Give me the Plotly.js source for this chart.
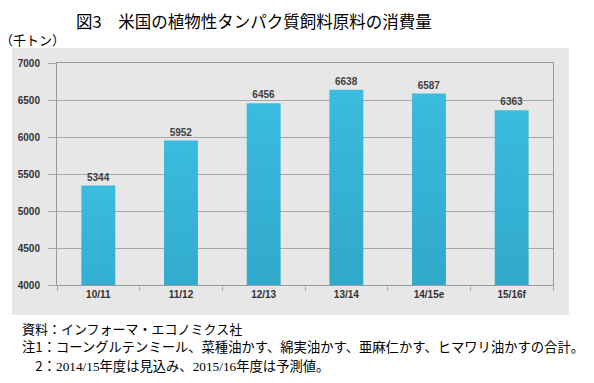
<!DOCTYPE html>
<html>
<head>
<meta charset="utf-8">
<script src="https://cdn.plot.ly/plotly-3.0.1.min.js"></script>
<style>
html,body{margin:0;padding:0;background:#fff;}
#chart{width:594px;height:383px;}
</style>
</head>
<body>
<svg width="0" height="0" style="position:absolute">
  <defs>
    <linearGradient id="barGrad" x1="0" y1="0" x2="0" y2="1">
      <stop offset="0" stop-color="#3abbe0"/>
      <stop offset="0.5" stop-color="#2da3c4"/>
      <stop offset="1" stop-color="#1a788f"/>
    </linearGradient>
  </defs>
</svg>
<div id="chart"></div>
<script>
const categories = ["10/11", "11/12", "12/13", "13/14", "14/15e", "15/16f"];
const consumption = [5344, 5952, 6456, 6638, 6587, 6363];
const yTicks = [4000, 4500, 5000, 5500, 6000, 6500, 7000];

const titleText = "図3　米国の植物性タンパク質飼料原料の消費量";
const unitText = "（千トン）";
const noteSource = "資料：インフォーマ・エコノミクス社";
const note1 = "注1：コーングルテンミール、菜種油かす、綿実油かす、亜麻仁かす、ヒマワリ油かすの合計。";

const jp = '"Noto Sans CJK JP", sans-serif';
const serifSpan = s => '<span style="font-family:\'Liberation Serif\', serif">' + s + '</span>';
const note2 = "　2：" + serifSpan("2014/15") + "年度は見込み、" + serifSpan("2015/16") + "年度は予測値。";

const trace = {
  type: "bar",
  x: categories,
  y: consumption,
  width: 0.41,
  marker: {color: "#2ca0c0", line: {width: 0}},
  text: consumption.map(String),
  textposition: "outside",
  cliponaxis: false,
  textfont: {family: '"Liberation Sans", Arial, sans-serif', size: 10, color: "#404040", weight: "bold"},
  hoverinfo: "none"
};

const layout = {
  width: 594,
  height: 383,
  margin: {l: 57, r: 41, t: 63, b: 98, pad: 0},
  paper_bgcolor: "#ffffff",
  plot_bgcolor: "rgba(0,0,0,0)",
  showlegend: false,
  bargap: 0.59,
  xaxis: {
    type: "category",
    showgrid: false,
    showline: true,
    linecolor: "#9a9a9a",
    linewidth: 1,
    mirror: true,
    ticks: "outside",
    tickson: "boundaries",
    ticklen: 5,
    tickcolor: "#b0b0b0",
    tickfont: {family: '"Liberation Sans", Arial, sans-serif', size: 10, color: "#333333", weight: "bold"},
    fixedrange: true
  },
  yaxis: {
    range: [4000, 7000],
    tickvals: yTicks,
    ticktext: yTicks.map(String),
    showgrid: true,
    gridcolor: "#a8a8a8",
    gridwidth: 1,
    showline: true,
    linecolor: "#9a9a9a",
    linewidth: 1,
    mirror: true,
    zeroline: false,
    ticks: "outside",
    ticklen: 8,
    tickcolor: "#a8a8a8",
    ticklabelstandoff: 6,
    tickfont: {family: '"Liberation Sans", Arial, sans-serif', size: 10, color: "#333333", weight: "bold"},
    fixedrange: true
  },
  shapes: [{
    type: "rect", xref: "paper", yref: "paper",
    x0: -0.0907, x1: 1.032, y0: -0.1351, y1: 1.0676,
    fillcolor: "#e7e7e7", line: {width: 0}, layer: "below"
  }],
  annotations: [
    {text: titleText, xref: "paper", yref: "paper", x: 0.397, y: 1.19, xanchor: "center", yanchor: "middle",
     showarrow: false, font: {family: jp, size: 16.5, color: "#000"}},
    {text: unitText, xref: "paper", yref: "paper", x: -0.118, y: 1.105, xanchor: "left", yanchor: "middle",
     showarrow: false, font: {family: jp, size: 13, color: "#000"}},
    {text: noteSource, xref: "paper", yref: "paper", x: -0.075, y: -0.196, xanchor: "left", yanchor: "middle",
     showarrow: false, font: {family: jp, size: 13, color: "#000"}},
    {text: note1, xref: "paper", yref: "paper", x: -0.075, y: -0.279, xanchor: "left", yanchor: "middle",
     showarrow: false, font: {family: jp, size: 13.3, color: "#000"}},
    {text: note2, xref: "paper", yref: "paper", x: -0.075, y: -0.362, xanchor: "left", yanchor: "middle",
     showarrow: false, font: {family: jp, size: 13.3, color: "#000"}}
  ]
};

function applyGradient(gd) {
  gd.querySelectorAll("g.trace.bars path").forEach(function (p) {
    p.setAttribute("fill", "url(#barGrad)");
    p.style.setProperty("fill", "url(#barGrad)", "important");
    p.style.setProperty("fill-opacity", "1", "important");
  });
}

const gdEl = document.getElementById("chart");
Plotly.newPlot(gdEl, [trace], layout, {staticPlot: true, displayModeBar: false}).then(function (gd) {
  applyGradient(gd);
  gd.on && gd.on("plotly_afterplot", function () { applyGradient(gd); });
});
</script>
</body>
</html>
